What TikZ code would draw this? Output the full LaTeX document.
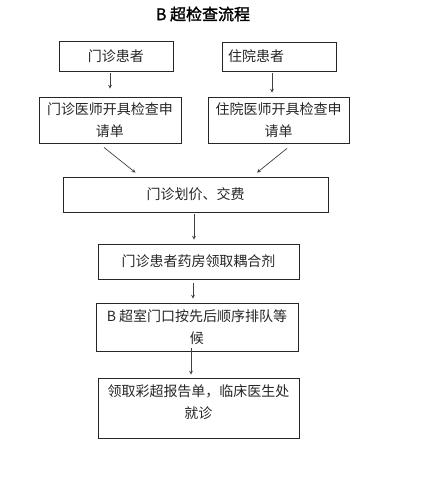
\documentclass[tikz,border=0pt]{standalone}
\usepackage{fontspec}
\setmainfont{Noto Sans CJK SC}
\newfontfamily\titlefont{Noto Sans CJK SC}[FakeBold=1.5]
\begin{document}
\begin{tikzpicture}[>=stealth,x=1pt,y=-1pt,
	box/.style={draw=black!85,line width=0.8pt,inner sep=0pt,align=center,text=black!85,font=\fontsize{14}{22}\selectfont},
	arr/.style={->,draw=black!75,line width=0.7pt,shorten >=4pt,shorten <=2pt}]
		\useasboundingbox (0,0) rectangle (442,483);
		\fill[white] (0,0) rectangle (442,483);
		\node[font=\titlefont\fontsize{16}{18}\selectfont] (title) at (203,14) {B 超检查流程};
		\node[box,minimum width=114,minimum height=30] (mzhz) at (116,56) {门诊患者};
		\node[box,minimum width=114,minimum height=29,text width=102,align=left,inner xsep=6pt] (zyhz) at (279,56.5) {住院患者};
		\node[box,minimum width=142,minimum height=46] (mzsq) at (110,120) {门诊医师开具检查申\\请单};
		\node[box,minimum width=141,minimum height=46] (zysq) at (278.5,120) {住院医师开具检查申\\请单};
		\node[box,minimum width=265,minimum height=35] (hj) at (195.5,194.5) {门诊划价、交费};
		\node[box,minimum width=201,minimum height=35] (yf) at (198.5,261.5) {门诊患者药房领取耦合剂};
		\node[box,minimum width=202,minimum height=48] (dh) at (197,327) {B 超室门口按先后顺序排队等\\候};
		\node[box,minimum width=201,minimum height=60,text depth=13pt] (jz) at (198.5,408) {领取彩超报告单，临床医生处\\就诊};
		% arrows
		\draw[arr,shorten >=8pt] ([xshift=-6pt]mzhz.south) -- (mzsq.north);
		\draw[arr] ([xshift=-7pt]zyhz.south) -- ([xshift=-6.5pt]zysq.north);
		\draw[arr,shorten <=0pt,shorten >=0pt] ([xshift=-6pt,yshift=-4pt]mzsq.south) -- ([xshift=-60pt,yshift=4pt]hj.north);
		\draw[arr,shorten <=0pt,shorten >=0pt] ([xshift=8.5pt,yshift=-5pt]zysq.south) -- ([xshift=61.5pt,yshift=4pt]hj.north);
		\draw[arr] ([xshift=-1.5pt]hj.south) -- ([xshift=-4.5pt]yf.north);
		\draw[arr,shorten <=4pt] ([xshift=-5.5pt]yf.south) -- ([xshift=-4pt]dh.north);
		\draw[arr,shorten <=-3pt,shorten >=3pt] ([xshift=-6pt]dh.south) -- ([xshift=-7.5pt]jz.north);
\end{tikzpicture}
\end{document}
